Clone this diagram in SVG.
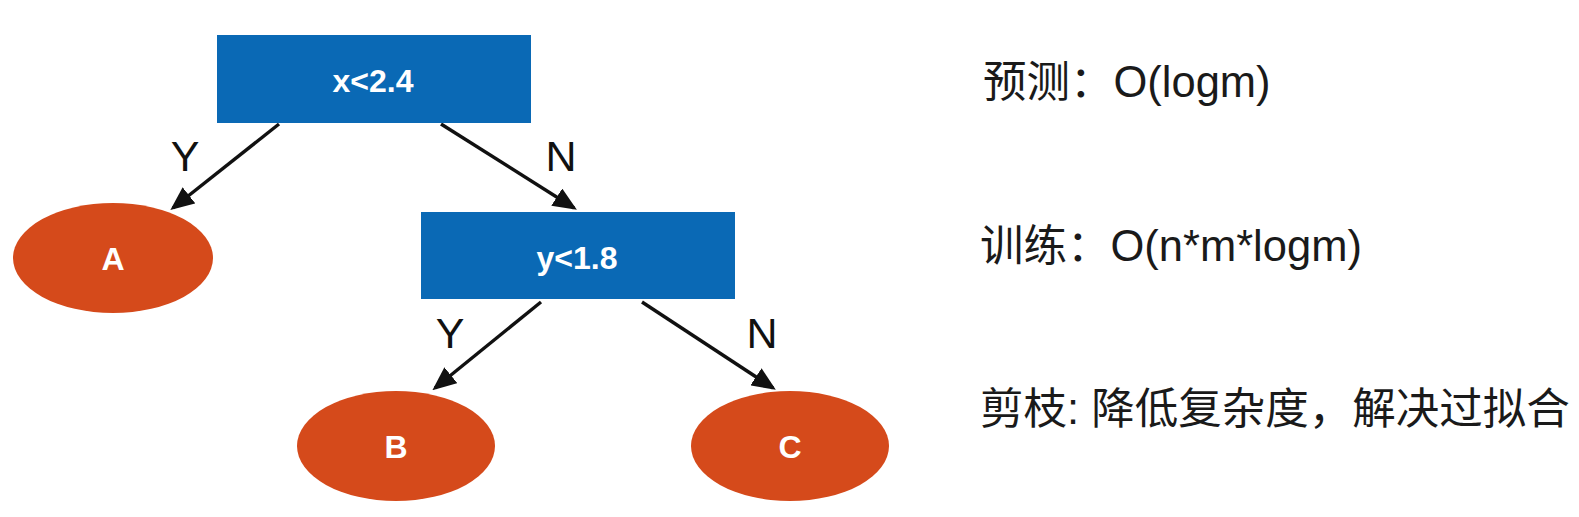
<svg xmlns="http://www.w3.org/2000/svg" width="1579" height="517" viewBox="0 0 1579 517">
<style>
.box{fill:#0a69b5}
.leaf{fill:#d54a1b}
.nt{font-family:"Liberation Sans",Arial,sans-serif;font-weight:bold;font-size:32px;fill:#ffffff;text-anchor:middle}
.el{font-family:"Liberation Sans",Arial,sans-serif;font-size:43px;fill:#111111;text-anchor:middle}
.edge{stroke:#111111;stroke-width:3.4;fill:none}
.note{font-family:"Liberation Sans","Noto Sans CJK SC",sans-serif;font-size:43.5px;fill:#1a1a1a}
</style>
<defs>
<marker id="arr" markerWidth="7" markerHeight="6" refX="6" refY="3" orient="auto" markerUnits="strokeWidth">
<path d="M0,0 L7,3 L0,6 Z" fill="#111111"/>
</marker>
</defs>
<rect width="1579" height="517" fill="#ffffff"/>
<g id="connectors">
<line class="edge" x1="279" y1="124" x2="173" y2="208" marker-end="url(#arr)"/>
<line class="edge" x1="441" y1="124" x2="574" y2="208" marker-end="url(#arr)"/>
<line class="edge" x1="541" y1="302" x2="435" y2="388" marker-end="url(#arr)"/>
<line class="edge" x1="642" y1="302" x2="773" y2="388" marker-end="url(#arr)"/>
<text class="el" x="185" y="171">Y</text>
<text class="el" x="561" y="171">N</text>
<text class="el" x="450" y="348">Y</text>
<text class="el" x="762" y="348">N</text>
</g>
<g id="node-x">
<rect class="box" x="217" y="35" width="314" height="88"/>
<text class="nt" x="373" y="92">x&lt;2.4</text>
</g>
<g id="node-A">
<ellipse class="leaf" cx="113" cy="258" rx="100" ry="55"/>
<text class="nt" x="113" y="270">A</text>
</g>
<g id="node-y">
<rect class="box" x="421" y="212" width="314" height="87"/>
<text class="nt" x="577" y="269">y&lt;1.8</text>
</g>
<g id="node-B">
<ellipse class="leaf" cx="396" cy="446" rx="99" ry="55"/>
<text class="nt" x="396" y="458">B</text>
</g>
<g id="node-C">
<ellipse class="leaf" cx="790" cy="446" rx="99" ry="55"/>
<text class="nt" x="790" y="458">C</text>
</g>
<g id="notes">
<text class="note" x="983" y="97">预测：O(logm)</text>
<text class="note" x="980" y="261">训练：O(n*m*logm)</text>
<text class="note" x="980" y="424">剪枝: 降低复杂度，解决过拟合</text>
</g>
</svg>
